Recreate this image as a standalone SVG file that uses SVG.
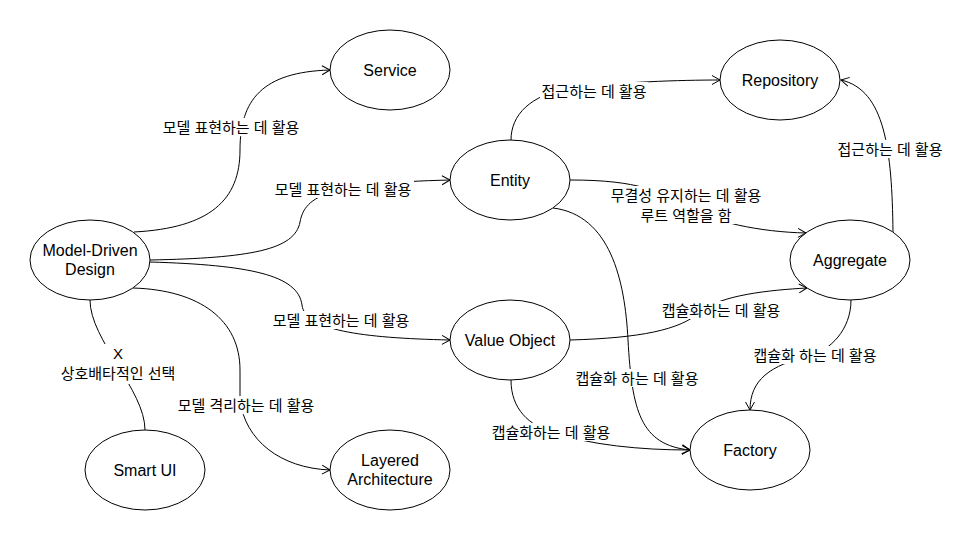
<svg xmlns="http://www.w3.org/2000/svg" width="974" height="541" viewBox="0 0 974 541">
<style>
.node ellipse{fill:#fff;stroke:#000;stroke-width:1}
.node text{font-family:"Liberation Sans",Arial,sans-serif;font-size:16px;fill:#000;text-anchor:middle;dominant-baseline:central}
.edge{fill:none;stroke:#000;stroke-width:1}
.arrow{marker-end:url(#open)}
.lbl rect{fill:#fff;stroke:none}
.lbl text{font-family:"Liberation Sans","Noto Sans CJK KR",sans-serif;font-size:15px;fill:#000;text-anchor:middle;dominant-baseline:central}
</style>
<defs>
<marker id="open" markerUnits="userSpaceOnUse" markerWidth="12" markerHeight="12" refX="8" refY="4.5" orient="auto" viewBox="-1 -1 12 12">
<path d="M0,0 L8,4.5 L0,9" fill="none" stroke="#000" stroke-width="1"/>
</marker>
</defs>
<rect width="974" height="541" fill="#fff"/>
<g id="connectors">
<path class="edge arrow" d="M134 232 C210 228,240 200,240 150 C240 100,262 72,330 70"/>
<path class="edge arrow" d="M150 260 C250 258,295 250,300 222 C305 195,330 183,450 180"/>
<path class="edge arrow" d="M150 262 C250 265,298 275,302 305 C305 330,360 338,450 340"/>
<path class="edge arrow" d="M133 288 C200 290,240 320,240 370 L240 400 C245 440,280 468,330 470"/>
<path class="edge" d="M90 300 C90 340,145 390,145 430"/>
<path class="edge arrow" d="M511 140 C511 115,530 95,570 88 C620 82,680 80,720 80"/>
<path class="edge arrow" d="M570 180 C640 180,660 192,686 206 C712 222,760 232,806 233"/>
<path class="edge arrow" d="M893 232 C892 150,885 90,841 80"/>
<path class="edge arrow" d="M553 208 C610 215,625 280,628 340 C632 410,640 445,690 450"/>
<path class="edge arrow" d="M570 340 C640 338,680 330,700 312 C720 295,770 290,807 288"/>
<path class="edge arrow" d="M851 300 C851 330,830 350,810 356 C770 365,750 380,750 410"/>
<path class="edge arrow" d="M511 380 C511 410,530 425,551 432 C590 445,640 450,690 450"/>
</g>
<g id="labels">
<g class="lbl"><rect x="160" y="118" width="142" height="18"/><text x="231" y="127">모델 표현하는 데 활용</text></g>
<g class="lbl"><rect x="272" y="180" width="142" height="18"/><text x="343" y="189">모델 표현하는 데 활용</text></g>
<g class="lbl"><rect x="270" y="311" width="142" height="18"/><text x="341" y="320">모델 표현하는 데 활용</text></g>
<g class="lbl"><rect x="175" y="396" width="142" height="18"/><text x="246" y="405">모델 격리하는 데 활용</text></g>
<g class="lbl"><rect x="58" y="344" width="120" height="40"/><text x="118" y="353">X</text><text x="118" y="373">상호배타적인 선택</text></g>
<g class="lbl"><rect x="540" y="82" width="108" height="18"/><text x="594" y="91">접근하는 데 활용</text></g>
<g class="lbl"><rect x="606" y="186" width="160" height="38"/><text x="686" y="195">무결성 유지하는 데 활용</text><text x="686" y="215">루트 역할을 함</text></g>
<g class="lbl"><rect x="836" y="140" width="108" height="18"/><text x="890" y="149">접근하는 데 활용</text></g>
<g class="lbl"><rect x="574" y="369" width="126" height="18"/><text x="637" y="378">캡슐화 하는 데 활용</text></g>
<g class="lbl"><rect x="660" y="301" width="122" height="18"/><text x="721" y="310">캡슐화하는 데 활용</text></g>
<g class="lbl"><rect x="751" y="346" width="128" height="18"/><text x="815" y="355">캡슐화 하는 데 활용</text></g>
<g class="lbl"><rect x="490" y="423" width="122" height="18"/><text x="551" y="432">캡슐화하는 데 활용</text></g>
</g>
<g id="service" class="node"><ellipse cx="390" cy="70" rx="60" ry="40"/><text x="390" y="70">Service</text></g>
<g id="mdd" class="node"><ellipse cx="90" cy="260" rx="60" ry="40"/><text x="90" y="250">Model-Driven</text><text x="90" y="269">Design</text></g>
<g id="entity" class="node"><ellipse cx="510" cy="180" rx="60" ry="40"/><text x="510" y="180">Entity</text></g>
<g id="repository" class="node"><ellipse cx="780" cy="80" rx="60" ry="40"/><text x="780" y="80">Repository</text></g>
<g id="aggregate" class="node"><ellipse cx="850" cy="260" rx="60" ry="40"/><text x="850" y="260">Aggregate</text></g>
<g id="valueobject" class="node"><ellipse cx="510" cy="340" rx="60" ry="40"/><text x="510" y="340">Value Object</text></g>
<g id="factory" class="node"><ellipse cx="750" cy="450" rx="60" ry="40"/><text x="750" y="450">Factory</text></g>
<g id="smartui" class="node"><ellipse cx="145" cy="470" rx="60" ry="40"/><text x="145" y="470">Smart UI</text></g>
<g id="layered" class="node"><ellipse cx="390" cy="470" rx="60" ry="40"/><text x="390" y="460">Layered</text><text x="390" y="479">Architecture</text></g>
</svg>
